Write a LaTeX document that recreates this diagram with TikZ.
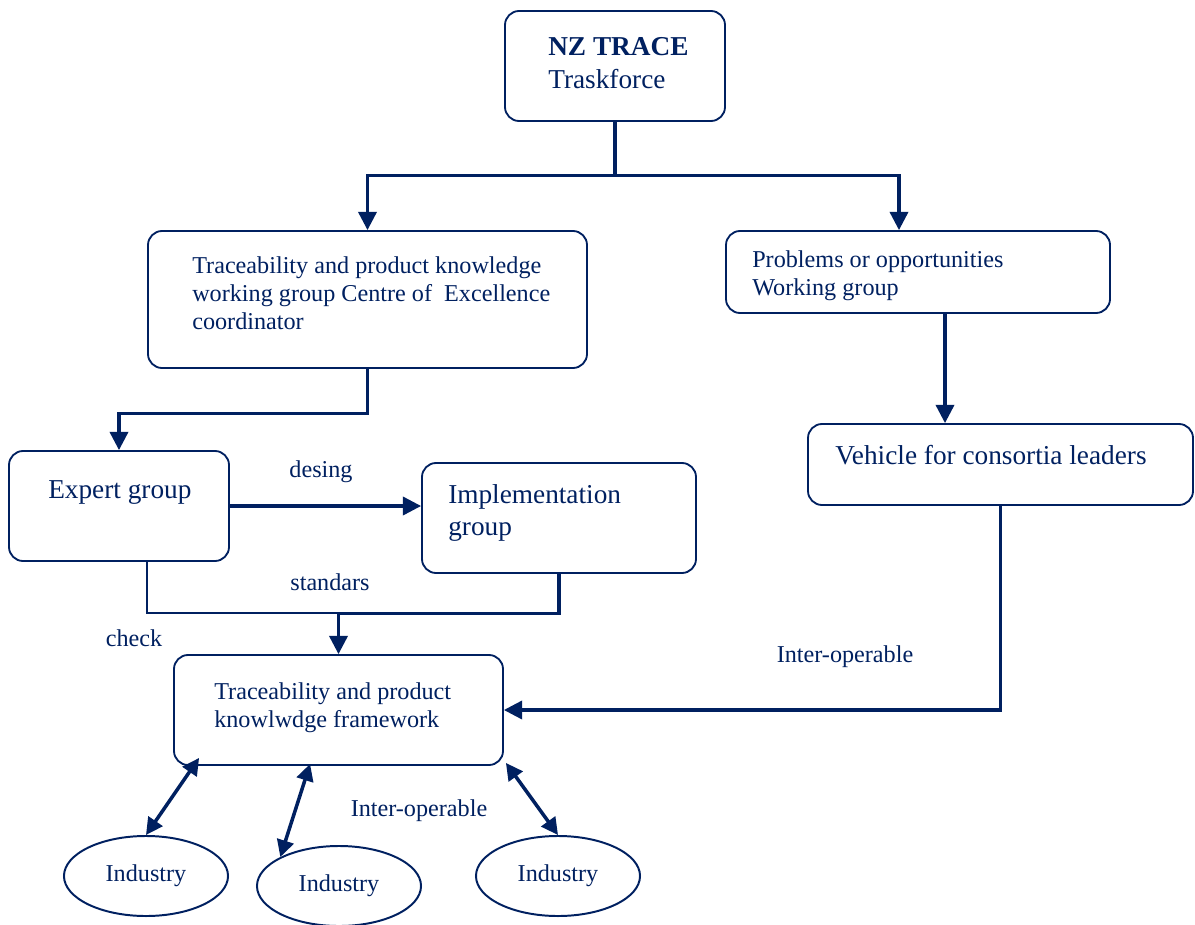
\documentclass[tikz,border=0pt]{standalone}
\usepackage{fontspec}
\setmainfont{Liberation Serif}
\usetikzlibrary{arrows.meta,calc,fit,shapes.geometric,positioning}
\definecolor{navy}{HTML}{002060}
\tikzset{
    kasten/.style={draw=navy, line width=1.3pt, rounded corners=10pt, inner sep=0pt},
    klein/.style={text=navy, font=\fontsize{17.2}{19.9}\selectfont, align=left, inner sep=0pt},
    gross/.style={text=navy, font=\fontsize{19.4}{23.2}\selectfont, align=left, inner sep=0pt},
    linie/.style={draw=navy, line width=2.2pt},
    duenn/.style={draw=navy, line width=1.1pt},
    pfeil/.style={linie, -{Triangle[length=13pt,width=13pt]}},
    doppelpfeil/.style={linie, line width=2.5pt, {Triangle[length=12pt,width=12pt]}-{Triangle[length=12pt,width=12pt]}},
    oval/.style={ellipse, draw=navy, line width=1.4pt, minimum width=4.1cm, minimum height=2cm, klein}
}
\begin{document}
\begin{tikzpicture}[x=0.025cm, y=-0.025cm]
        \useasboundingbox (0,0) rectangle (1195,925);
        % Kaesten
        \node[kasten, fit={(505,11) (725,121)}] (taskforce) {};
        \node[kasten, fit={(148,231) (587,368)}] (knowgroup) {};
        \node[kasten, fit={(726,231) (1110,313)}] (problems) {};
        \node[kasten, fit={(808,424) (1193,505)}] (vehicle) {};
        \node[kasten, fit={(9,451) (229,561)}] (expert) {};
        \node[kasten, fit={(422,463) (696,573)}] (impl) {};
        \node[kasten, fit={(174,655) (503,765)}] (framework) {};
        % Texte in den Kaesten
        \node[gross, anchor=west] (taskforcetxt) at (548,63) {\textbf{NZ TRACE}\\Traskforce};
        \node[klein, anchor=west] (knowgrouptxt) at (192,293)
            {Traceability and product knowledge\\working group Centre of~ Excellence\\coordinator};
        \node[klein, anchor=west] (problemstxt) at (752,275.5) {Problems or opportunities\\Working group};
        \node[gross, anchor=west] (vehicletxt) at (835,455) {Vehicle for consortia leaders};
        \node[gross, anchor=west] (experttxt) at (48,493) {Expert group};
        \node[gross, anchor=west] (impltxt) at (448,513) {Implementation\\group};
        \node[klein, anchor=west] (frameworktxt) at (214,708) {Traceability and product\\knowlwdge framework};
        % Industrie
        \node[oval] (industryA) at (146,876) {Industry};
        \node[oval] (industryB) at (339,886) {\raisebox{-3pt}{Industry}};
        \node[oval] (industryC) at (558,876) {Industry};
        % Verbindungen
        \draw[linie] (taskforce.south) -- ++(0,54) coordinate (split);
        \draw[pfeil] (split) -| (knowgroup.north);
        \draw[pfeil] (split) -| ($(problems.north)+(-19,0)$);
        \draw[pfeil] (knowgroup.south) -- ++(0,45) -| (expert.north);
        \draw[pfeil] (expert.east) -- (expert.east -| impl.west);
        \draw[duenn] ($(expert.south)+(28,0)$) |- ($(framework.north)+(0,-41)$);
        \draw[pfeil] (impl.south) -- ++(0,40) -| (framework.north);
        \draw[pfeil] ($(problems.south)+(27,0)$) coordinate (drop) -- (drop |- vehicle.north);
        \draw[pfeil] (vehicle.south) |- (framework.east);
        \draw[doppelpfeil] ($(framework.south west)+(26,-8)$) -- (industryA.north);
        \draw[doppelpfeil] ($(framework.south west)+(137,-2)$) -- (industryB.north west);
        \draw[doppelpfeil] ($(framework.south east)+(2,-3)$) -- (industryC.north);
        % Beschriftungen
        \node[klein] (desing) at (321,472) {desing};
        \node[klein] (standars) at (330,582) {standars};
        \node[klein] (check) at (134,638) {check};
        \node[klein] (interA) at (845,657) {Inter-operable};
        \node[klein] (interB) at (419,811) {Inter-operable};
\end{tikzpicture}
\end{document}
